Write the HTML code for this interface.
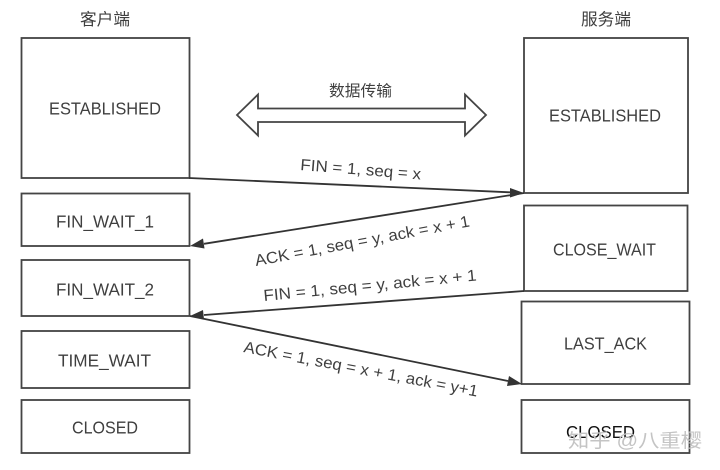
<!DOCTYPE html>
<html><head><meta charset="utf-8"><style>
html,body{margin:0;padding:0;background:#fff;width:720px;height:470px;overflow:hidden}
svg{display:block;filter:blur(.35px)}
text{font-family:"Liberation Sans","Noto Sans CJK SC",sans-serif;font-size:17.5px;fill:#3f3f3f}
.c{font-family:"Liberation Sans","Noto Sans CJK SC",sans-serif}
.r{font-size:16px}
rect{fill:#fff;stroke:#444;stroke-width:1.8}
</style></head><body>
<svg width="720" height="470" viewBox="0 0 720 470" xmlns="http://www.w3.org/2000/svg">
<rect x="21.5" y="38" width="168" height="140"/>
<rect x="21.5" y="193.5" width="168" height="52.5"/>
<rect x="21.5" y="260" width="168" height="56"/>
<rect x="21.5" y="331" width="168" height="57"/>
<rect x="21.5" y="400" width="168" height="53"/>
<rect x="524" y="38" width="164" height="155"/>
<rect x="524" y="205.500" width="163.500" height="85.500"/>
<rect x="521.500" y="301.500" width="168" height="82.500"/>
<rect x="521.500" y="400" width="168" height="53"/>
<text class="c" x="80" y="25" textLength="50" lengthAdjust="spacingAndGlyphs" style="font-size:16.500px">客户端</text>
<text class="c" x="581" y="25" textLength="50" lengthAdjust="spacingAndGlyphs" style="font-size:16.500px">服务端</text>
<text class="c" x="329" y="96" textLength="63" lengthAdjust="spacingAndGlyphs" style="font-size:15.500px">数据传输</text>
<text x="49" y="114.300" textLength="112" lengthAdjust="spacingAndGlyphs">ESTABLISHED</text>
<text x="549" y="121.300" textLength="112" lengthAdjust="spacingAndGlyphs">ESTABLISHED</text>
<text x="56" y="227.300" textLength="98" lengthAdjust="spacingAndGlyphs">FIN_WAIT_1</text>
<text x="56" y="295.300" textLength="98" lengthAdjust="spacingAndGlyphs">FIN_WAIT_2</text>
<text x="58" y="366.300" textLength="93" lengthAdjust="spacingAndGlyphs">TIME_WAIT</text>
<text x="72" y="433.300" textLength="66" lengthAdjust="spacingAndGlyphs">CLOSED</text>
<text x="553" y="255.300" textLength="103" lengthAdjust="spacingAndGlyphs">CLOSE_WAIT</text>
<text x="564" y="349.300" textLength="83" lengthAdjust="spacingAndGlyphs">LAST_ACK</text>
<text x="566" y="438" textLength="69" lengthAdjust="spacingAndGlyphs" style="fill:#111">CLOSED</text>
<text class="c" x="568" y="447" textLength="134" lengthAdjust="spacingAndGlyphs" style="font-size:19px;fill:#c4c4c4">知乎 @八重樱</text>
<path d="M237 115 L258 94.500 V108.500 H465 V94.500 L486 115 L465 135.500 V122 H258 V135.500 Z" fill="#fff" stroke="#444" stroke-width="1.800"/>
<g stroke="#333" stroke-width="1.800" fill="none">
<path d="M189 178 L510 192.300"/>
<path d="M524 193 L204 243.800"/>
<path d="M524 291 L204 315"/>
<path d="M190 316 L508 381"/>
</g>
<g fill="#333">
<path d="M524 193 L510 188 L510 197.500 Z"/>
<path d="M190 246 L203 238.500 L204.500 248.500 Z"/>
<path d="M190 316 L203 310 L204 319.500 Z"/>
<path d="M522 384 L509 376 L507 386 Z"/>
</g>
<text class="r" transform="translate(300 170) rotate(4.500)" textLength="121" lengthAdjust="spacingAndGlyphs">FIN = 1, seq = x</text>
<text class="r" transform="translate(256 266) rotate(-10.500)" textLength="218" lengthAdjust="spacingAndGlyphs">ACK = 1, seq = y, ack = x + 1</text>
<text class="r" transform="translate(264 301) rotate(-5.500)" textLength="214" lengthAdjust="spacingAndGlyphs">FIN = 1, seq = y, ack = x + 1</text>
<text class="r" transform="translate(243 352) rotate(10.800)" textLength="238" lengthAdjust="spacingAndGlyphs">ACK = 1, seq = x + 1, ack = y+1</text>
</svg>
</body></html>
